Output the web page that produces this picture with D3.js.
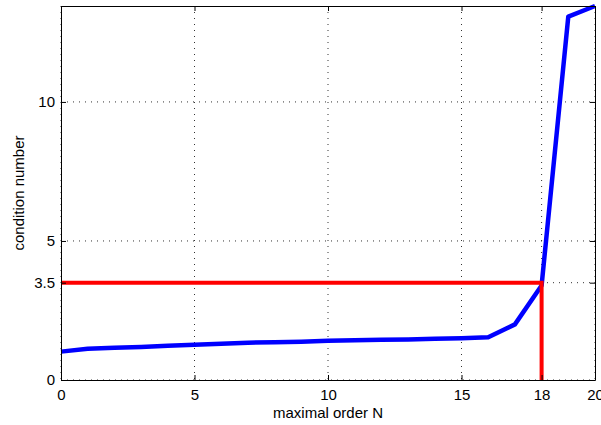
<!DOCTYPE html>
<html>
<head>
<meta charset="utf-8">
<script src="https://cdn.jsdelivr.net/npm/d3@7"></script>
<style>
  body { margin: 0; background: #fff; }
  text { font-family: "Liberation Sans", Arial, sans-serif; fill: #000; }
</style>
</head>
<body>
<div id="chart"></div>
<script>
// data
var orders = [0, 1, 2, 3, 4, 5, 6, 7, 8, 9, 10, 11, 12, 13, 14, 15, 16, 17, 18, 19, 20];
var condNumbers = [1.02, 1.12, 1.16, 1.19, 1.23, 1.27, 1.30, 1.34, 1.36, 1.38, 1.41, 1.43, 1.45, 1.46, 1.48, 1.50, 1.54, 2.0, 3.4, 13.07, 13.45];
var xTicks = [0, 5, 10, 15, 18, 20];
var yTicks = [0, 3.5, 5, 10];
var threshold = { x: 18, y: 3.5 };

var W = 601, H = 425;
var margin = { top: 6, right: 6, bottom: 45, left: 61 };
var width = W - margin.left - margin.right,
    height = H - margin.top - margin.bottom;

var svg = d3.select("#chart").append("svg")
    .attr("width", W)
    .attr("height", H);

var g = svg.append("g")
    .attr("transform", "translate(" + margin.left + "," + margin.top + ")");

var x = d3.scaleLinear().domain([0, 20]).range([0, width]);
var y = d3.scaleLinear().domain([0, 13.45]).range([height, 0]);

// grid
g.selectAll(".gx")
    .data(xTicks)
    .enter().append("line")
    .attr("x1", d => x(d)).attr("x2", d => x(d))
    .attr("y1", 0).attr("y2", height)
    .attr("stroke", "#333")
    .attr("stroke-width", 1)
    .attr("stroke-dasharray", "1,5");

g.selectAll(".gy")
    .data(yTicks)
    .enter().append("line")
    .attr("y1", d => y(d)).attr("y2", d => y(d))
    .attr("x1", 0).attr("x2", width)
    .attr("stroke", "#333")
    .attr("stroke-width", 1)
    .attr("stroke-dasharray", "1,5");

// blue curve
var line = d3.line()
    .x((d, i) => x(orders[i]))
    .y(d => y(d));

g.append("path")
    .datum(condNumbers)
    .attr("d", line)
    .attr("fill", "none")
    .attr("stroke", "#0000ff")
    .attr("stroke-width", 4.5)
    .attr("stroke-linejoin", "round");

// red threshold lines
g.append("path")
    .attr("d", d3.line()([[x(0), y(threshold.y)], [x(threshold.x), y(threshold.y)], [x(threshold.x), y(0)]]))
    .attr("fill", "none")
    .attr("stroke", "#ff0000")
    .attr("stroke-width", 4);

// axes (box with inward ticks)
var tickLen = 5;
g.append("g")
    .attr("transform", "translate(0," + height + ")")
    .call(d3.axisBottom(x).tickValues(xTicks).tickSizeInner(-tickLen).tickSizeOuter(0).tickPadding(9))
    .call(a => a.selectAll("text").attr("font-size", "15px"));
g.append("g")
    .call(d3.axisTop(x).tickValues(xTicks).tickSizeInner(-tickLen).tickSizeOuter(0).tickFormat(""));
g.append("g")
    .call(d3.axisLeft(y).tickValues(yTicks).tickSizeInner(-tickLen).tickSizeOuter(0).tickPadding(6)
        .tickFormat(d => d))
    .call(a => a.selectAll("text").attr("font-size", "15px"));
g.append("g")
    .attr("transform", "translate(" + width + ",0)")
    .call(d3.axisRight(y).tickValues(yTicks).tickSizeInner(-tickLen).tickSizeOuter(0).tickFormat(""));

g.selectAll(".domain").attr("stroke", "#000");
g.selectAll(".tick line").attr("stroke", "#000");

// axis labels
svg.append("text")
    .attr("x", margin.left + width / 2)
    .attr("y", 418)
    .attr("text-anchor", "middle")
    .attr("font-size", "15px")
    .text("maximal order N");

svg.append("text")
    .attr("transform", "translate(24," + (margin.top + height / 2) + ") rotate(-90)")
    .attr("text-anchor", "middle")
    .attr("font-size", "15px")
    .text("condition number");
</script>
</body>
</html>
